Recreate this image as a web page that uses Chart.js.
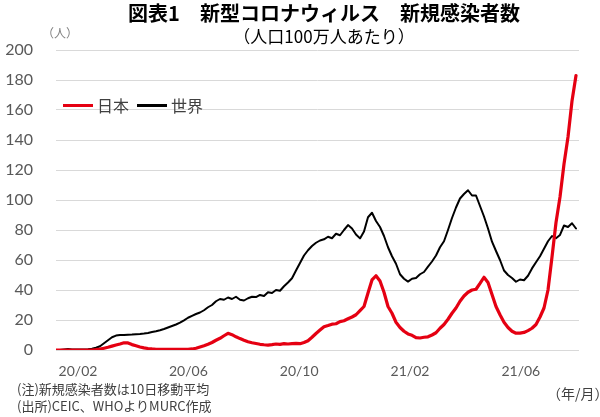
<!DOCTYPE html>
<html>
<head>
<meta charset="utf-8">
<script src="https://cdn.jsdelivr.net/npm/chart.js@4.4.1/dist/chart.umd.min.js"></script>
<style>
  html, body { margin: 0; padding: 0; background: #fff; }
  #wrap { position: relative; width: 600px; height: 417px; overflow: hidden; font-family: "Noto Sans CJK JP", "Noto Sans", sans-serif; }
  #c { position: absolute; left: 0; top: 0; }
  .t { position: absolute; white-space: nowrap; line-height: 1; }
  #title { left: 96px; width: 456px; top: 3px; text-align: center; font-size: 20px; font-weight: bold; color: #000; }
  #subtitle { left: 96px; width: 456px; top: 27px; text-align: center; font-size: 17px; color: #000; }
  #unit { left: 42px; top: 27px; font-size: 12px; color: #7f7f7f; }
  #legend { left: 63px; top: 97px; font-size: 16px; color: #404040; display: flex; align-items: center; }
  #legend .sw { display: inline-block; width: 30px; height: 3px; margin-right: 4px; }
  #legend .lab { margin-right: 8px; }
  #note1 { left: 17px; top: 382px; font-size: 13px; color: #404040; }
  #note2 { left: 17px; top: 399px; font-size: 13px; color: #404040; }
  #xunit { left: 547px; top: 386px; font-size: 14px; color: #404040; }
</style>
</head>
<body>
<div id="wrap">
  <canvas id="c" width="600" height="417"></canvas>
  <div class="t" id="title">図表1　新型コロナウィルス　新規感染者数</div>
  <div class="t" id="subtitle">（人口100万人あたり）</div>
  <div class="t" id="unit">（人）</div>
  <div class="t" id="legend"></div>
  <div class="t" id="note1">(注)新規感染者数は10日移動平均</div>
  <div class="t" id="note2">(出所)CEIC、WHOよりMURC作成</div>
  <div class="t" id="xunit">（年/月）</div>
</div>
<script>
// ---- data (10-day moving average, per million people) ----
const seriesNames = ['日本', '世界'];
const seriesColors = ['#e50012', '#000000'];

const japan = [
  0, 0, 0, 0, 0, 0, 0, 0, 0, 0,
  0.2, 0.6, 1.2, 1.8, 2.6, 3.3, 4, 4.8, 4.7, 3.6,
  2.8, 2, 1.4, 1, 0.7, 0.5, 0.5, 0.5, 0.5, 0.5,
  0.5, 0.5, 0.5, 0.5, 0.7, 1.2, 2, 2.8, 3.8, 5,
  6.5, 7.8, 9.5, 11.1, 10.2, 8.8, 7.6, 6.5, 5.5, 4.8,
  4.3, 3.8, 3.5, 3.3, 3.6, 4, 3.8, 4.2, 4, 4.3,
  4.4, 4.2, 5, 6.2, 8.5, 11, 13.3, 15.5, 16.3, 17.2,
  17.5, 18.9, 19.5, 20.8, 22, 23.5, 26.3, 29, 38, 46.7,
  49.5, 46, 38.5, 29, 24.5, 18.5, 15, 12.5, 10.7, 9.8,
  8.2, 8, 8.5, 8.8, 10, 11.5, 14.5, 17, 20.5, 24.5,
  28, 32.5, 36, 38.5, 40, 40.5, 44.4, 48.5, 45, 37,
  29, 23.5, 18.5, 15, 12.5, 11.2, 11.3, 11.7, 12.9, 14.5,
  17, 22, 28, 40, 62, 85, 102, 124, 142, 166,
  183
];

const world = [
  0, 0, 0.3, 0.6, 0.3, 0.3, 0.3, 0.4, 0.5, 0.8,
  1.5, 2.5, 4.5, 6.5, 8.5, 9.6, 10, 10, 10.2, 10.3,
  10.5, 10.7, 11, 11.4, 12, 12.5, 13.2, 14, 15, 16,
  17, 18.2, 19.8, 21.5, 22.8, 24, 25, 26.5, 28.5, 30,
  32.5, 34, 33.5, 35, 34, 35.5, 33.5, 33, 34.5, 35.5,
  35.3, 36.7, 36, 38.5, 38, 40, 39.5, 42.5, 45, 47.8,
  53, 58, 63, 66.5, 69.3, 71.5, 73, 73.8, 75.5, 74.5,
  77.5, 76.5, 80, 83.3, 81, 77, 74.4, 79, 88.5, 91.5,
  86, 82, 76, 68.5, 62.5, 57.5, 50.5, 47.5, 45.6, 47.5,
  48, 50.5, 52, 55.6, 59, 63, 68.5, 72.5, 80, 88,
  95, 101, 104, 106.5, 103, 103, 96, 89, 81, 72.2,
  66, 60, 53, 50, 48, 45.5, 47, 46.5, 49.5, 54.4,
  58.5, 62.5, 67.5, 72.5, 76, 74.5, 76.7, 83, 82, 84.5,
  81
];

const xTickLabels = ['20/02', '20/06', '20/10', '21/02', '21/06'];
const xTickAt = [5.5, 33.1, 60.8, 88.5, 116.2];
const yTicks = [0, 20, 40, 60, 80, 100, 120, 140, 160, 180, 200];

// ---- legend (HTML text) ----
const leg = document.getElementById('legend');
seriesNames.forEach((n, k) => {
  const sw = document.createElement('span');
  sw.className = 'sw';
  sw.style.background = seriesColors[k];
  const lb = document.createElement('span');
  lb.className = 'lab';
  lb.textContent = n;
  leg.appendChild(sw); leg.appendChild(lb);
});

const toPts = arr => arr.map((v, i) => ({ x: i, y: v }));

new Chart(document.getElementById('c'), {
  type: 'line',
  data: {
    datasets: [
      { label: seriesNames[0], data: toPts(japan), borderColor: seriesColors[0], borderWidth: 3.2,
        pointRadius: 0, tension: 0, borderJoinStyle: 'round', borderCapStyle: 'round' },
      { label: seriesNames[1], data: toPts(world), borderColor: seriesColors[1], borderWidth: 2,
        pointRadius: 0, tension: 0, borderJoinStyle: 'round', borderCapStyle: 'round' }
    ]
  },
  options: {
    responsive: false,
    animation: false,
    devicePixelRatio: 1,
    layout: { padding: { left: 0, right: 21, top: 50, bottom: 27 } },
    plugins: { legend: { display: false }, title: { display: false }, tooltip: { enabled: false } },
    scales: {
      x: {
        type: 'linear', min: 0, max: 130.75,
        grid: { display: false, drawTicks: false }, border: { display: false },
        afterFit: s => { s.height = 40; },
        afterBuildTicks: s => { s.ticks = xTickAt.map(v => ({ value: v })); },
        ticks: {
          autoSkip: false, maxRotation: 0, padding: 13,
          font: { family: 'Lato, "Noto Sans CJK JP", sans-serif', size: 14 }, color: '#595959',
          callback: (v, i) => xTickLabels[i]
        }
      },
      y: {
        min: 0, max: 200,
        grid: { color: '#d9d9d9', lineWidth: 1, drawTicks: false }, border: { display: false },
        afterFit: s => { s.width = 56; },
        afterBuildTicks: s => { s.ticks = yTicks.map(v => ({ value: v })); },
        ticks: {
          padding: 23,
          font: { family: 'Lato, "Noto Sans CJK JP", sans-serif', size: 16 }, color: '#595959'
        }
      }
    }
  }
});
</script>
</body>
</html>
